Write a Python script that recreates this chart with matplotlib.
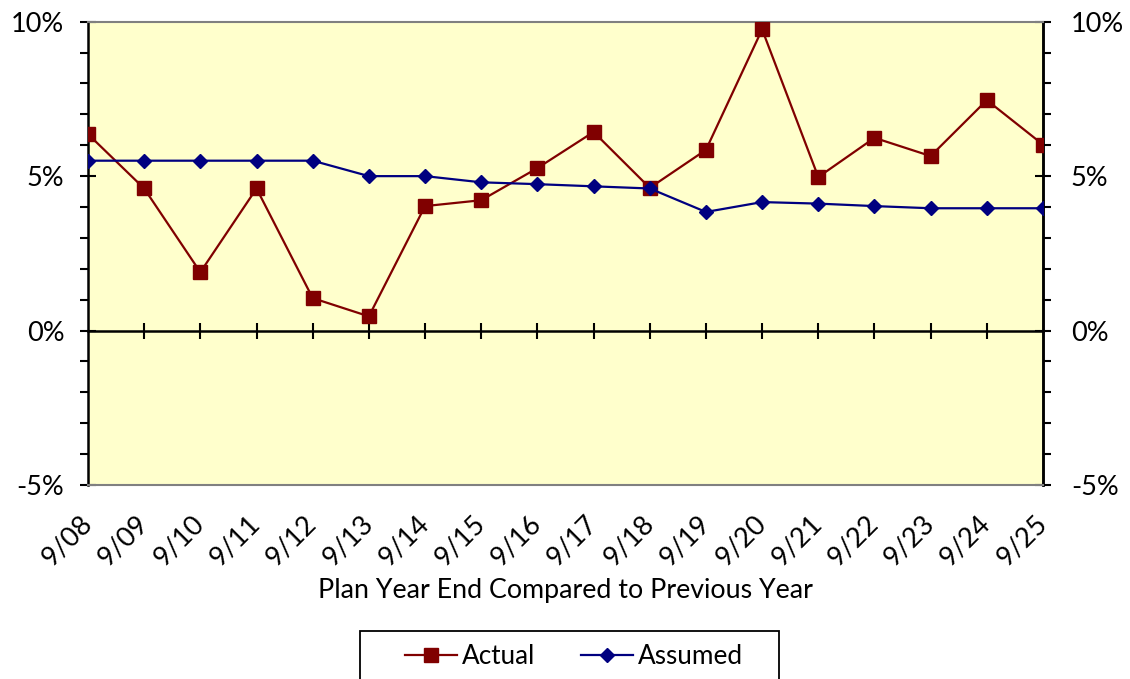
import numpy as np
import matplotlib
matplotlib.use("Agg")
import matplotlib.pyplot as plt
from matplotlib.patches import Rectangle
from matplotlib.ticker import FixedLocator, PercentFormatter

plt.rcParams['font.family'] = ['Lato', 'DejaVu Sans']
plt.rcParams['axes.unicode_minus'] = False

years = ["9/08", "9/09", "9/10", "9/11", "9/12", "9/13", "9/14", "9/15", "9/16",
         "9/17", "9/18", "9/19", "9/20", "9/21", "9/22", "9/23", "9/24", "9/25"]
actual = [6.36, 4.60, 1.89, 4.60, 1.05, 0.46, 4.03, 4.22, 5.26,
          6.43, 4.62, 5.85, 9.75, 4.97, 6.24, 5.65, 7.46, 6.02]
assumed = [5.50, 5.50, 5.50, 5.50, 5.50, 5.00, 5.00, 4.80, 4.74,
           4.67, 4.60, 3.84, 4.16, 4.11, 4.03, 3.96, 3.96, 3.96]
y_major = [-5, 0, 5, 10]
y_minor = [-4, -3, -2, -1, 1, 2, 3, 4, 6, 7, 8, 9]

W, H = 1130, 679
fig = plt.figure(figsize=(W / 100, H / 100), dpi=100)
ax = fig.add_axes([88 / W, 1 - 485 / H, (1043 - 88) / W, (485 - 21.7) / H])
ax.set_facecolor("#FFFFCC")

x = np.arange(len(years))
ax.plot(x, actual, color="#800000", lw=1.6, marker="s", ms=9.5, label="Actual", zorder=3)
ax.plot(x, assumed, color="#000080", lw=1.6, marker="D", ms=7.5, label="Assumed", zorder=4)

ax.set_xlim(0, len(years) - 1)
ax.set_ylim(-5, 10)


def style_percent_axis(axis, pad):
    axis.yaxis.set_major_locator(FixedLocator(y_major))
    axis.yaxis.set_minor_locator(FixedLocator(y_minor))
    axis.yaxis.set_major_formatter(PercentFormatter(decimals=0))
    axis.tick_params(axis="y", which="major", direction="inout", length=12.2, width=1.5,
                     labelsize=19.5, pad=pad)
    axis.tick_params(axis="y", which="minor", direction="out", length=5.8, width=1.5)


# percent scale on the left, repeated on the right
style_percent_axis(ax, 11)
right_axis = ax.secondary_yaxis("right")
style_percent_axis(right_axis, 14)
right_axis.spines["right"].set_color("black")
right_axis.spines["right"].set_linewidth(1.8)

# category labels below the plot area
ax.set_xticks(x)
ax.set_xticklabels(years, rotation=45, ha="right", va="center", rotation_mode="anchor")
ax.tick_params(axis="x", which="major", length=0, labelsize=19.5, pad=25)

for side in ("left", "right"):
    ax.spines[side].set_color("black")
    ax.spines[side].set_linewidth(1.8)
for side in ("top", "bottom"):
    ax.spines[side].set_color("#808080")
    ax.spines[side].set_linewidth(1.5)

# zero line carrying the category tick marks
zero_axis = ax.secondary_xaxis(5 / 15)
zero_axis.set_xticks(x[1:-1])
zero_axis.set_xticklabels([])
zero_axis.tick_params(direction="inout", length=12.2, width=1.5, color="black")
zero_axis.spines["bottom"].set_color("black")
zero_axis.spines["bottom"].set_linewidth(1.8)

ax.set_xlabel("Plan Year End Compared to Previous Year", fontsize=19.3, labelpad=5)

# legend box runs off the bottom edge
fig.patches.append(Rectangle((360 / W, -0.05), (779 - 360) / W, 0.05 + 1 - 631 / H,
                             transform=fig.transFigure, fill=False,
                             edgecolor="black", linewidth=1.3))
fig.legend(loc="center", bbox_to_anchor=(574 / W, 1 - 657 / H),
           ncol=2, fontsize=18.8, frameon=False, handlelength=2.0,
           columnspacing=1.75, handletextpad=0.2, borderpad=0, borderaxespad=0)

fig.savefig("out.png", dpi=100)
